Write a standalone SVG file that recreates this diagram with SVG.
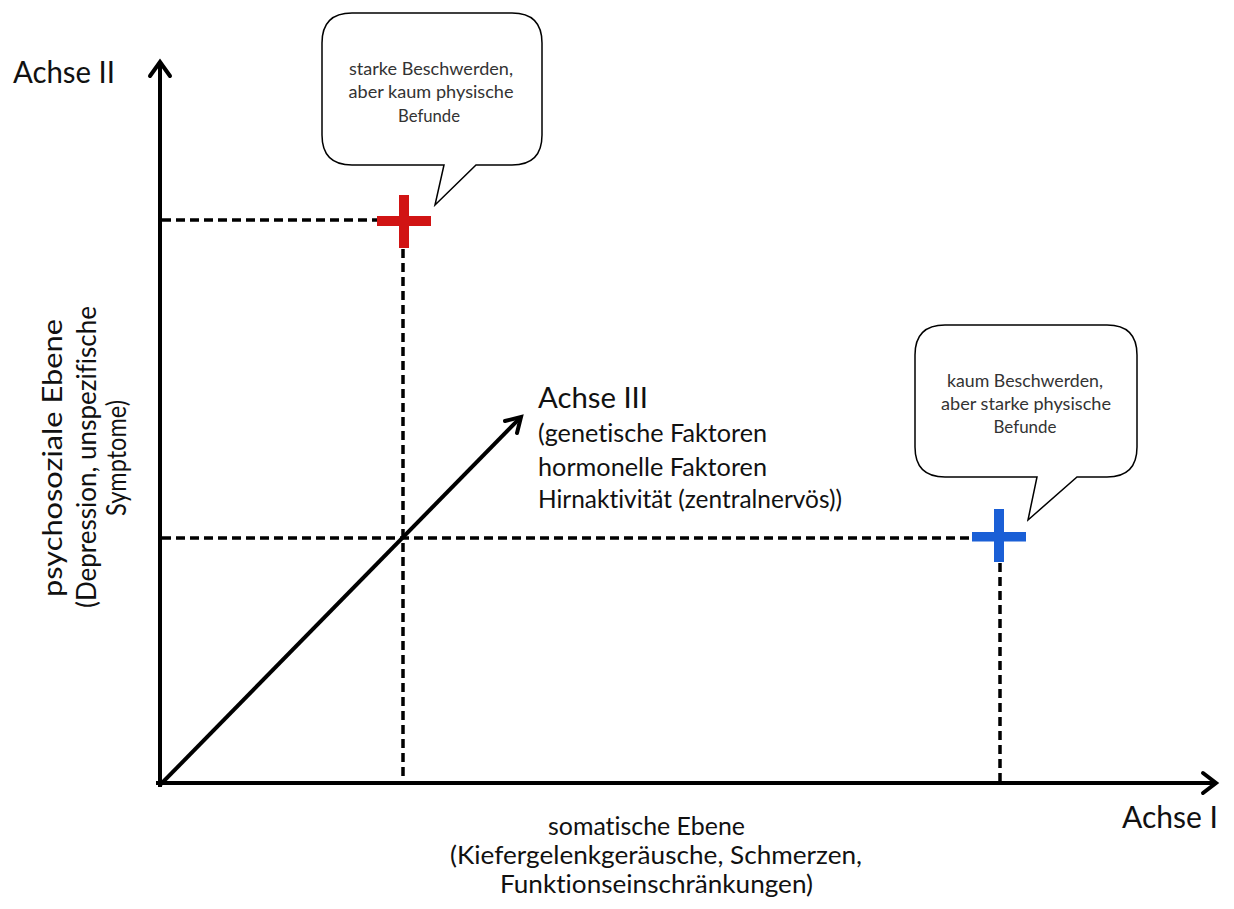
<svg xmlns="http://www.w3.org/2000/svg" width="1234" height="909" viewBox="0 0 1234 909">
<style>
.axis{stroke:#000;stroke-width:4;fill:none;stroke-linecap:square}
.head{stroke:#000;stroke-width:4;fill:none;stroke-linecap:round;stroke-linejoin:miter}
.dash{stroke:#000;stroke-width:3.5;fill:none;stroke-dasharray:9 5}
.bubble{fill:#fff;stroke:#000;stroke-width:1.5}
text{font-family:Lato,"Open Sans","Liberation Sans",sans-serif;font-variant-ligatures:none;font-feature-settings:"liga" 0}
.t{fill:#111}
.bt{fill:#333;font-size:18px;text-anchor:middle}
</style>
<rect width="1234" height="909" fill="#fff"/>
<g id="connectors">
  <line class="dash" x1="162" y1="220" x2="377" y2="220"/>
  <line class="dash" x1="403" y1="249" x2="403" y2="781"/>
  <line class="dash" x1="162" y1="538" x2="972" y2="538"/>
  <line class="dash" x1="1000" y1="563" x2="1000" y2="781"/>
  <line class="axis" x1="160" y1="785" x2="160" y2="64"/>
  <polyline class="head" points="150,76 160,62 170,76"/>
  <line class="axis" x1="158" y1="783" x2="1214" y2="783"/>
  <polyline class="head" points="1203,773 1216,783 1203,793"/>
  <line class="axis" x1="162" y1="783" x2="518" y2="420"/>
  <polyline class="head" points="505,421 521,417 517,433"/>
</g>
<g id="axis1-label">
  <text class="t" x="1122" y="828" font-size="30" textLength="96" lengthAdjust="spacingAndGlyphs">Achse I</text>
  <text class="t" x="548" y="835" font-size="25" textLength="197" lengthAdjust="spacingAndGlyphs">somatische Ebene</text>
  <text class="t" x="450" y="864" font-size="25" textLength="412" lengthAdjust="spacingAndGlyphs">(Kiefergelenkgeräusche, Schmerzen,</text>
  <text class="t" x="500" y="893" font-size="25" textLength="313" lengthAdjust="spacingAndGlyphs">Funktionseinschränkungen)</text>
</g>
<g id="axis2-label">
  <text class="t" x="13" y="83" font-size="30" textLength="102" lengthAdjust="spacingAndGlyphs">Achse II</text>
  <g transform="translate(0,458) rotate(-90)" font-size="26">
    <text class="t" x="-139" y="62" textLength="278" lengthAdjust="spacingAndGlyphs">psychosoziale Ebene</text>
    <text class="t" x="-150" y="96" textLength="302" lengthAdjust="spacingAndGlyphs">(Depression, unspezifische</text>
    <text class="t" x="-58" y="126" textLength="116" lengthAdjust="spacingAndGlyphs">Symptome)</text>
  </g>
</g>
<g id="axis3-label">
  <text class="t" x="538" y="408" font-size="29" textLength="110" lengthAdjust="spacingAndGlyphs">Achse III</text>
  <text class="t" x="538" y="442" font-size="24.5" textLength="229" lengthAdjust="spacingAndGlyphs">(genetische Faktoren</text>
  <text class="t" x="538" y="476" font-size="24.5" textLength="229" lengthAdjust="spacingAndGlyphs">hormonelle Faktoren</text>
  <text class="t" x="538" y="508" font-size="24.5" textLength="304" lengthAdjust="spacingAndGlyphs">Hirnaktivität (zentralnervös))</text>
</g>
<g id="red-cross">
  <rect x="377" y="216" width="54" height="10" fill="#d11414"/>
  <rect x="399" y="195" width="10" height="53" fill="#d11414"/>
</g>
<g id="blue-cross">
  <rect x="972" y="532" width="54" height="9.5" fill="#1a5fd6"/>
  <rect x="994" y="509" width="10" height="53" fill="#1a5fd6"/>
</g>
<g id="bubble-1">
  <path class="bubble" d="M352,13 H512 Q542,13 542,43 V135 Q542,165 512,165 H476 L435,205 L444,165 H352 Q322,165 322,135 V43 Q322,13 352,13 Z"/>
  <text class="bt" x="431" y="75" textLength="164" lengthAdjust="spacingAndGlyphs">starke Beschwerden,</text>
  <text class="bt" x="431" y="98" textLength="165" lengthAdjust="spacingAndGlyphs">aber kaum physische</text>
  <text class="bt" x="429" y="122" textLength="62" lengthAdjust="spacingAndGlyphs">Befunde</text>
</g>
<g id="bubble-2">
  <path class="bubble" d="M945,325 H1107 Q1137,325 1137,355 V447 Q1137,477 1107,477 H1077 L1028,520 L1037,477 H945 Q915,477 915,447 V355 Q915,325 945,325 Z"/>
  <text class="bt" x="1025" y="387" textLength="156" lengthAdjust="spacingAndGlyphs">kaum Beschwerden,</text>
  <text class="bt" x="1026" y="410" textLength="170" lengthAdjust="spacingAndGlyphs">aber starke physische</text>
  <text class="bt" x="1025" y="433" textLength="63" lengthAdjust="spacingAndGlyphs">Befunde</text>
</g>
</svg>
